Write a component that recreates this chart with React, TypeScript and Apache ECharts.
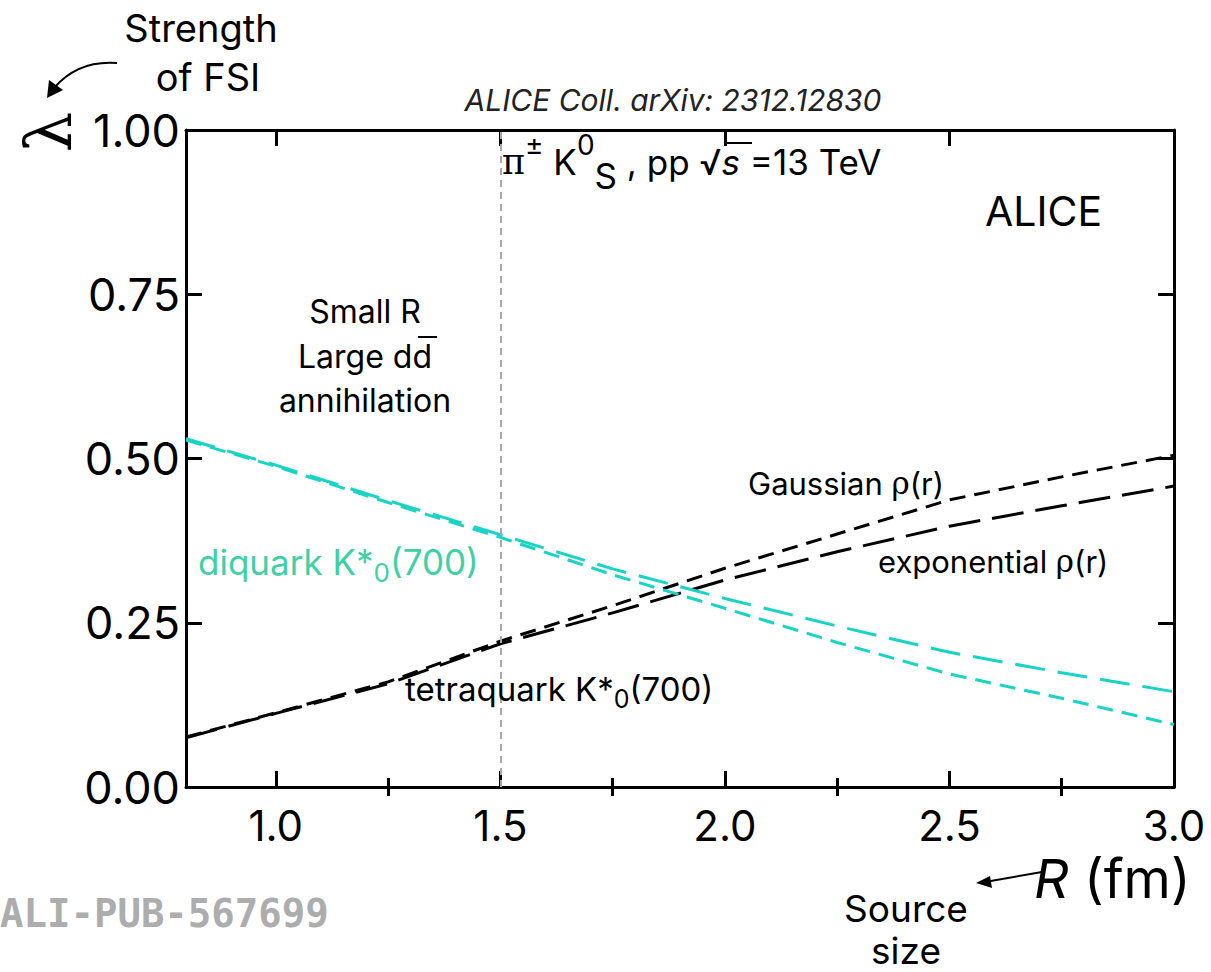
import React, { useEffect, useRef } from "react";
import * as echarts from "echarts";

// R (fm) sampling points
const rValues = [0.8, 1.0, 1.25, 1.5, 1.75, 2.0, 2.25, 2.5, 2.75, 3.0];
// diquark K*0(700), exponential rho(r) (cyan long dash)
const diquarkExp = [0.53, 0.49, 0.436, 0.384, 0.332, 0.287, 0.245, 0.205, 0.174, 0.145];
// diquark K*0(700), Gaussian rho(r) (cyan short dash)
const diquarkGauss = [0.528, 0.488, 0.433, 0.38, 0.323, 0.272, 0.22, 0.172, 0.135, 0.095];
// tetraquark K*0(700), Gaussian rho(r) (black short dash)
const tetraGauss = [0.076, 0.113, 0.16, 0.222, 0.276, 0.333, 0.385, 0.437, 0.472, 0.505];
// tetraquark K*0(700), exponential rho(r) (black long dash)
const tetraExp = [0.075, 0.112, 0.157, 0.218, 0.265, 0.315, 0.358, 0.397, 0.428, 0.458];

const xMajorTicks = [1.0, 1.5, 2.0, 2.5, 3.0];
const xMinorTicks = [1.25, 1.75, 2.25, 2.75];
const xMin = 0.8;
const xMax = 3.0;
const yMin = 0;
const yMax = 1;
const yInterval = 0.25;
const smallRBoundary = 1.5;

const F = "Inter";
const SERIF = "DejaVu Serif";
const CYAN = "#17d4c6";
const MINT = "#3fd0a4";

const pairs = (ys: number[]) => rValues.map((x, i) => [x, ys[i]]);

function txt(text: string, x: number, y: number, size: number, extra: any = {}) {
  const align = extra.align || "left";
  const style: any = {
    text,
    fontSize: size,
    fontFamily: extra.fontFamily || F,
    fontStyle: extra.fontStyle || "normal",
    fontWeight: extra.fontWeight || "normal",
    fill: extra.fill || "#000",
    align,
    textAlign: align,
    verticalAlign: "middle",
    textVerticalAlign: "middle",
  };
  if (extra.rich) style.rich = extra.rich;
  if (extra.lineHeight) style.lineHeight = extra.lineHeight;
  return {
    type: "text",
    x,
    y,
    rotation: extra.rotation || 0,
    z: 100,
    style,
  };
}

export default function App() {
  const ref = useRef<HTMLDivElement>(null);

  useEffect(() => {
    if (!ref.current) return;
    const chart = echarts.init(ref.current, null, { renderer: "svg" });

    const majorTick = { show: true, inside: true, length: 16, lineStyle: { color: "#000", width: 3 } };
    const minorTick = { show: true, inside: true, length: 9, lineStyle: { color: "#000", width: 3 } };
    const axisLine = { show: true, onZero: false, lineStyle: { color: "#000", width: 3 } };

    const xBase = { type: "value", min: xMin, max: xMax, splitLine: { show: false } };

    const option: any = {
      animation: false,
      backgroundColor: "#fff",
      grid: { left: 186, right: 37, top: 130, bottom: 185, containLabel: false },
      xAxis: [
        {
          ...xBase,
          position: "bottom",
          axisLine,
          axisTick: { ...majorTick, customValues: xMajorTicks },
          axisLabel: {
            show: true,
            customValues: xMajorTicks,
            formatter: (v: number) => v.toFixed(1),
            fontSize: 42,
            fontFamily: F,
            color: "#000",
            margin: 17,
          },
        },
        {
          ...xBase,
          position: "bottom",
          axisLine: { show: false },
          axisTick: { ...minorTick, customValues: xMinorTicks },
          axisLabel: { show: false },
        },
        {
          ...xBase,
          position: "top",
          axisLine,
          axisTick: { ...majorTick, customValues: xMajorTicks },
          axisLabel: { show: false },
        },
        {
          ...xBase,
          position: "top",
          axisLine: { show: false },
          axisTick: { ...minorTick, customValues: xMinorTicks },
          axisLabel: { show: false },
        },
      ],
      yAxis: [
        {
          type: "value",
          min: yMin,
          max: yMax,
          interval: yInterval,
          position: "left",
          axisLine,
          axisTick: majorTick,
          splitLine: { show: false },
          axisLabel: {
            formatter: (v: number) => v.toFixed(2),
            fontSize: 45,
            fontFamily: F,
            color: "#000",
            margin: 6,
          },
        },
        {
          type: "value",
          min: yMin,
          max: yMax,
          interval: yInterval,
          position: "right",
          axisLine,
          axisTick: majorTick,
          splitLine: { show: false },
          axisLabel: { show: false },
        },
      ],
      series: [
        {
          name: "tetraquark exponential",
          type: "line",
          data: pairs(tetraExp),
          showSymbol: false,
          lineStyle: { color: "#000", width: 3, type: [32, 12] },
          markLine: {
            silent: true,
            symbol: "none",
            label: { show: false },
            lineStyle: { color: "#a8a8a8", width: 2, type: [7, 5] },
            data: [{ xAxis: smallRBoundary }],
          },
        },
        {
          name: "tetraquark Gaussian",
          type: "line",
          data: pairs(tetraGauss),
          showSymbol: false,
          lineStyle: { color: "#000", width: 3, type: [16, 9] },
        },
        {
          name: "diquark exponential",
          type: "line",
          data: pairs(diquarkExp),
          showSymbol: false,
          lineStyle: { color: CYAN, width: 3, type: [30, 13] },
        },
        {
          name: "diquark Gaussian",
          type: "line",
          data: pairs(diquarkGauss),
          showSymbol: false,
          lineStyle: { color: CYAN, width: 3, type: [16, 9] },
        },
      ],
      graphic: {
        elements: [
          txt("Strength", 201, 28, 38, { align: "center" }),
          txt("of FSI", 208, 77, 38, { align: "center" }),
          {
            type: "bezierCurve",
            z: 100,
            shape: { x1: 117, y1: 63, x2: 54, y2: 88, cpx1: 78, cpy1: 60 },
            style: { stroke: "#000", lineWidth: 2, fill: null },
          },
          {
            type: "polygon",
            z: 100,
            shape: { points: [[47, 98], [49, 80], [63, 90]] },
            style: { fill: "#000" },
          },
          txt("λ", 48, 132, 64, { align: "center", fontFamily: SERIF, rotation: Math.PI / 2 }),
          txt("ALICE Coll. arXiv: 2312.12830", 673, 100, 30, { align: "center", fontStyle: "italic", fill: "#222" }),
          txt("{pi|π}{sup|±} K{sup|0}{sub|S} , pp √{it|s} =13 TeV", 502, 162, 35, {
            lineHeight: 62,
            rich: {
              pi: { fontFamily: SERIF, fontSize: 35, lineHeight: 62, fill: "#000" },
              sup: { fontFamily: F, fontSize: 28, lineHeight: 48, verticalAlign: "top", fill: "#000" },
              sub: { fontFamily: F, fontSize: 35, lineHeight: 30, verticalAlign: "bottom", fill: "#000" },
              it: { fontFamily: F, fontSize: 35, fontStyle: "italic", lineHeight: 62, fill: "#000" },
            },
          }),
          {
            type: "line",
            z: 100,
            shape: { x1: 724, y1: 143, x2: 752, y2: 143 },
            style: { stroke: "#000", lineWidth: 2 },
          },
          txt("ALICE", 985, 211, 41),
          txt("Small R", 365, 311, 32, { align: "center" }),
          txt("Large dd", 365, 356, 32, { align: "center" }),
          {
            type: "line",
            z: 100,
            shape: { x1: 418, y1: 337, x2: 437, y2: 337 },
            style: { stroke: "#000", lineWidth: 2 },
          },
          txt("annihilation", 365, 400, 32, { align: "center" }),
          txt("diquark K*{sub|0}(700)", 198, 562, 35, {
            fill: MINT,
            lineHeight: 46,
            rich: { sub: { fontSize: 26, lineHeight: 24, verticalAlign: "bottom", fill: MINT, fontFamily: F } },
          }),
          txt("tetraquark K*{sub|0}(700)", 405, 689, 33, {
            lineHeight: 44,
            rich: { sub: { fontSize: 25, lineHeight: 24, verticalAlign: "bottom", fill: "#000", fontFamily: F } },
          }),
          txt("Gaussian {g|ρ}(r)", 748, 483, 31, {
            rich: { g: { fontFamily: SERIF, fontSize: 31, fill: "#000" } },
          }),
          txt("exponential {g|ρ}(r)", 878, 561, 31, {
            rich: { g: { fontFamily: SERIF, fontSize: 31, fill: "#000" } },
          }),
          txt("{it|R} (fm)", 1034, 878, 54, {
            rich: { it: { fontFamily: F, fontSize: 54, fontStyle: "italic", fill: "#000" } },
          }),
          txt("Source\nsize", 906, 929, 37, { align: "center", lineHeight: 42 }),
          {
            type: "line",
            z: 100,
            shape: { x1: 1042, y1: 872, x2: 985, y2: 882 },
            style: { stroke: "#000", lineWidth: 2 },
          },
          {
            type: "polygon",
            z: 100,
            shape: { points: [[976, 883], [990, 876], [992, 888]] },
            style: { fill: "#000" },
          },
          txt("ALI-PUB-567699", 0, 913, 39, { fontFamily: "DejaVu Sans Mono", fontWeight: "bold", fill: "#adadad" }),
        ],
      },
    };

    chart.setOption(option);
    return () => chart.dispose();
  }, []);

  return (
    <div
      ref={ref}
      style={{ position: "absolute", left: 0, top: 0, width: 1211, height: 972, background: "#fff" }}
    />
  );
}
